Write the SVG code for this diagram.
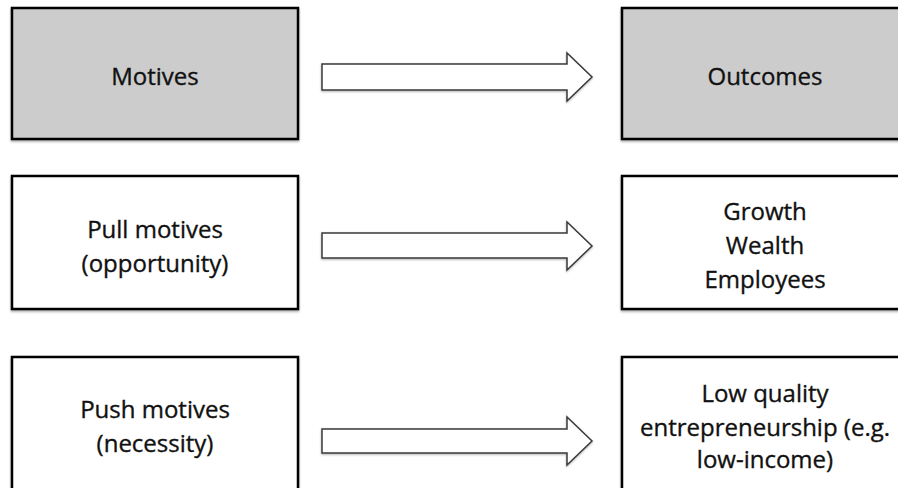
<svg xmlns="http://www.w3.org/2000/svg" width="898" height="488" viewBox="0 0 898 488">
<style>
.box{stroke:#000;stroke-width:2.5;filter:url(#sh)}
.gray{fill:#cccccc}
.white{fill:#ffffff}
.lbl{font-family:"Open Sans","Liberation Sans",sans-serif;font-size:24px;fill:#111;stroke:#111;stroke-width:0.35;text-anchor:middle}
.arrow{fill:#fff;stroke:#3a3a3a;stroke-width:1.5;stroke-linejoin:miter;filter:url(#ash)}
</style>
<defs>
<filter id="sh" x="-5%" y="-5%" width="110%" height="115%">
<feDropShadow dx="0" dy="1.5" stdDeviation="1" flood-color="#000" flood-opacity="0.35"/>
</filter>
<filter id="ash" x="-5%" y="-20%" width="110%" height="140%">
<feDropShadow dx="0" dy="1" stdDeviation="0.8" flood-color="#000" flood-opacity="0.3"/>
</filter>
</defs>
<rect width="898" height="488" fill="#fff"/>
<g id="motives"><rect class="box gray" x="12" y="8" width="286" height="131"/><text class="lbl" x="155" y="85">Motives</text></g>
<g id="outcomes"><rect class="box gray" x="622" y="8" width="290" height="131"/><text class="lbl" x="765" y="85">Outcomes</text></g>
<g id="pull"><rect class="box white" x="12" y="176" width="286" height="133"/><text class="lbl" x="155" y="238">Pull motives</text><text class="lbl" x="155" y="272">(opportunity)</text></g>
<g id="growth"><rect class="box white" x="622" y="176" width="290" height="133"/><text class="lbl" x="765" y="220">Growth</text><text class="lbl" x="765" y="254">Wealth</text><text class="lbl" x="765" y="288">Employees</text></g>
<g id="push"><rect class="box white" x="12" y="357" width="286" height="150"/><text class="lbl" x="155" y="418">Push motives</text><text class="lbl" x="155" y="452">(necessity)</text></g>
<g id="lowquality"><rect class="box white" x="622" y="357" width="290" height="150"/><text class="lbl" x="765" y="402">Low quality</text><text class="lbl" x="765" y="436">entrepreneurship (e.g.</text><text class="lbl" x="765" y="468">low-income)</text></g>
<g id="connectors">
<polygon class="arrow" points="322,64 567,64 567,53 592,77 567,101 567,90 322,90"/>
<polygon class="arrow" points="322,233 567,233 567,222 592,246 567,270 567,258 322,258"/>
<polygon class="arrow" points="322,429 567,429 567,417 592,441 567,465 567,453 322,453"/>
</g>
</svg>
